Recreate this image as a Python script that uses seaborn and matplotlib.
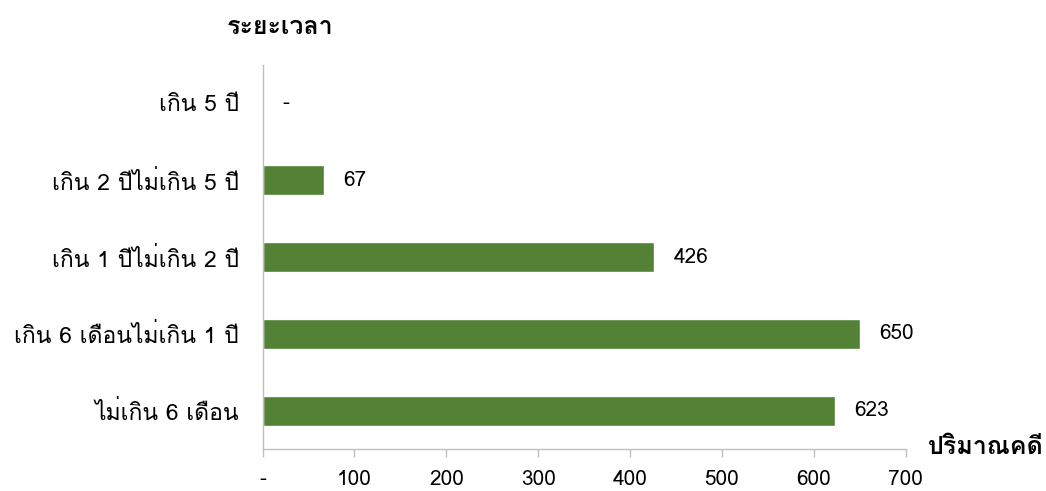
#!/usr/bin/env python3

import matplotlib
matplotlib.use("Agg")
import matplotlib.pyplot as plt
from matplotlib import font_manager
from matplotlib.ft2font import FT2Font
import pandas as pd
import seaborn as sns

# Data
categories = ["เกิน 5 ปี", "เกิน 2 ปีไม่เกิน 5 ปี", "เกิน 1 ปีไม่เกิน 2 ปี",
              "เกิน 6 เดือนไม่เกิน 1 ปี", "ไม่เกิน 6 เดือน"]
cases = [0, 67, 426, 650, 623]
x_ticks = [0, 100, 200, 300, 400, 500, 600, 700]
x_tick_labels = ["-", "100", "200", "300", "400", "500", "600", "700"]

BAR_COLOR = "#538135"
AXIS_COLOR = "#bfbfbf"


# Find an installed family that has Thai glyphs
def find_thai_family():
    seen = set()
    for f in font_manager.fontManager.ttflist:
        if f.name in seen:
            continue
        seen.add(f.name)
        try:
            if 0x0E01 in FT2Font(f.fname).get_charmap():
                return f.name
        except Exception:
            continue
    return None


sns.set_theme(style="white")
thai = find_thai_family()
families = ([thai] if thai else []) + ["DejaVu Sans"]
plt.rcParams["font.family"] = families

df = pd.DataFrame({"category": categories, "cases": cases})

fig, ax = plt.subplots(figsize=(10.46, 4.91), dpi=100)
fig.subplots_adjust(left=0.251, right=0.866, top=0.868, bottom=0.085)

sns.barplot(data=df, x="cases", y="category", color=BAR_COLOR, width=0.39,
            saturation=1, ax=ax)

ax.set_xlim(0, 700)
ax.set_ylim(len(categories) - 0.5, -0.5)
ax.set_xticks(x_ticks)
ax.set_xticklabels(x_tick_labels, fontsize=15, color="#000000")
ax.tick_params(axis="y", labelsize=16.5, length=0, pad=17, labelcolor="#000000")
ax.tick_params(axis="x", length=6, width=1, color=AXIS_COLOR, direction="out",
               bottom=True, pad=9)
ax.set_xlabel("")
ax.set_ylabel("")

for side in ["top", "right"]:
    ax.spines[side].set_visible(False)
for side in ["left", "bottom"]:
    ax.spines[side].set_color(AXIS_COLOR)
    ax.spines[side].set_linewidth(1)

# Value labels
for i, v in enumerate(cases):
    label = "-" if v == 0 else f"{v}"
    ax.annotate(label, xy=(v, i), xytext=(14, 0), textcoords="offset points",
                ha="left", va="center", fontsize=15, color="#000000")

fig.text(0.268, 0.945, "ระยะเวลา", fontsize=18, fontweight="bold",
         ha="center", va="center", color="#000000")
fig.text(0.942, 0.088, "ปริมาณคดี", fontsize=18, fontweight="bold",
         ha="center", va="center", color="#000000")

fig.savefig("out.png", dpi=100)
plt.close(fig)
